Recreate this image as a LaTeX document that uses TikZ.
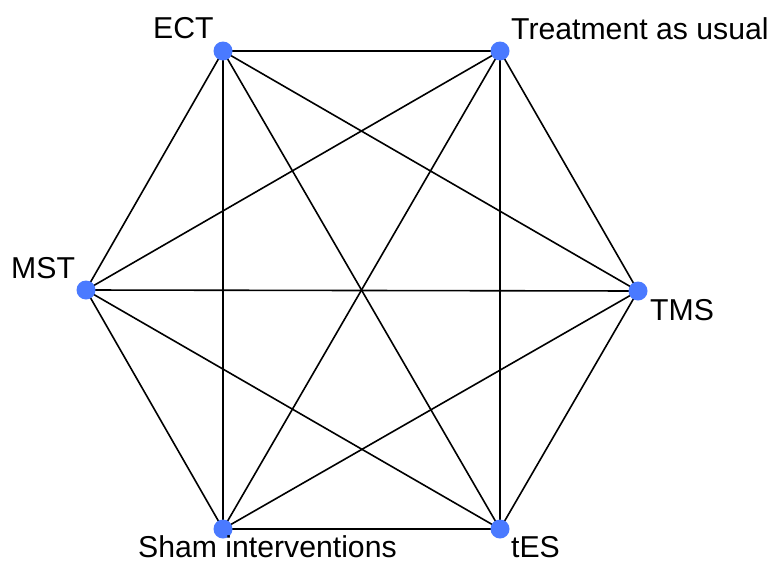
\documentclass[tikz,border=0pt]{standalone}
\usepackage{fontspec}
\setmainfont{Liberation Sans}
\usetikzlibrary{backgrounds}
\definecolor{dotblue}{RGB}{74,122,255}
\begin{document}
\begin{tikzpicture}[x=1pt,y=-1pt,
  dot/.style={circle,fill=dotblue,draw=none,minimum size=19pt,inner sep=0pt},
  lbl/.style={inner sep=0pt,anchor=base west,font=\fontsize{30.2}{34}\selectfont},
  link/.style={draw=black,line width=1.6pt}]
\useasboundingbox (0,0) rectangle (773,562);
\node[dot] (ect) at (223,51) {};
\node[dot] (tau) at (500,51) {};
\node[dot] (tms) at (638,291) {};
\node[dot] (tes) at (500,529) {};
\node[dot] (sham) at (223,529) {};
\node[dot] (mst) at (86,290) {};
\node[lbl] (lect) at (153,38) {ECT};
\node[lbl] (ltau) at (511,39) {Treatment as usual};
\node[lbl] (lmst) at (11,278) {MST};
\node[lbl] (ltms) at (650,320) {TMS};
\node[lbl] (lsham) at (138,557) {Sham interventions};
\node[lbl] (ltes) at (511,557) {tES};
\begin{scope}[on background layer]
\foreach \a/\b in {ect/tau,ect/tms,ect/tes,ect/sham,ect/mst,
                   tau/tms,tau/tes,tau/sham,tau/mst,
                   tms/tes,tms/sham,tms/mst,
                   tes/sham,tes/mst,
                   sham/mst}
  \draw[link] (\a.center) -- (\b.center);
\end{scope}
\end{tikzpicture}
\end{document}
